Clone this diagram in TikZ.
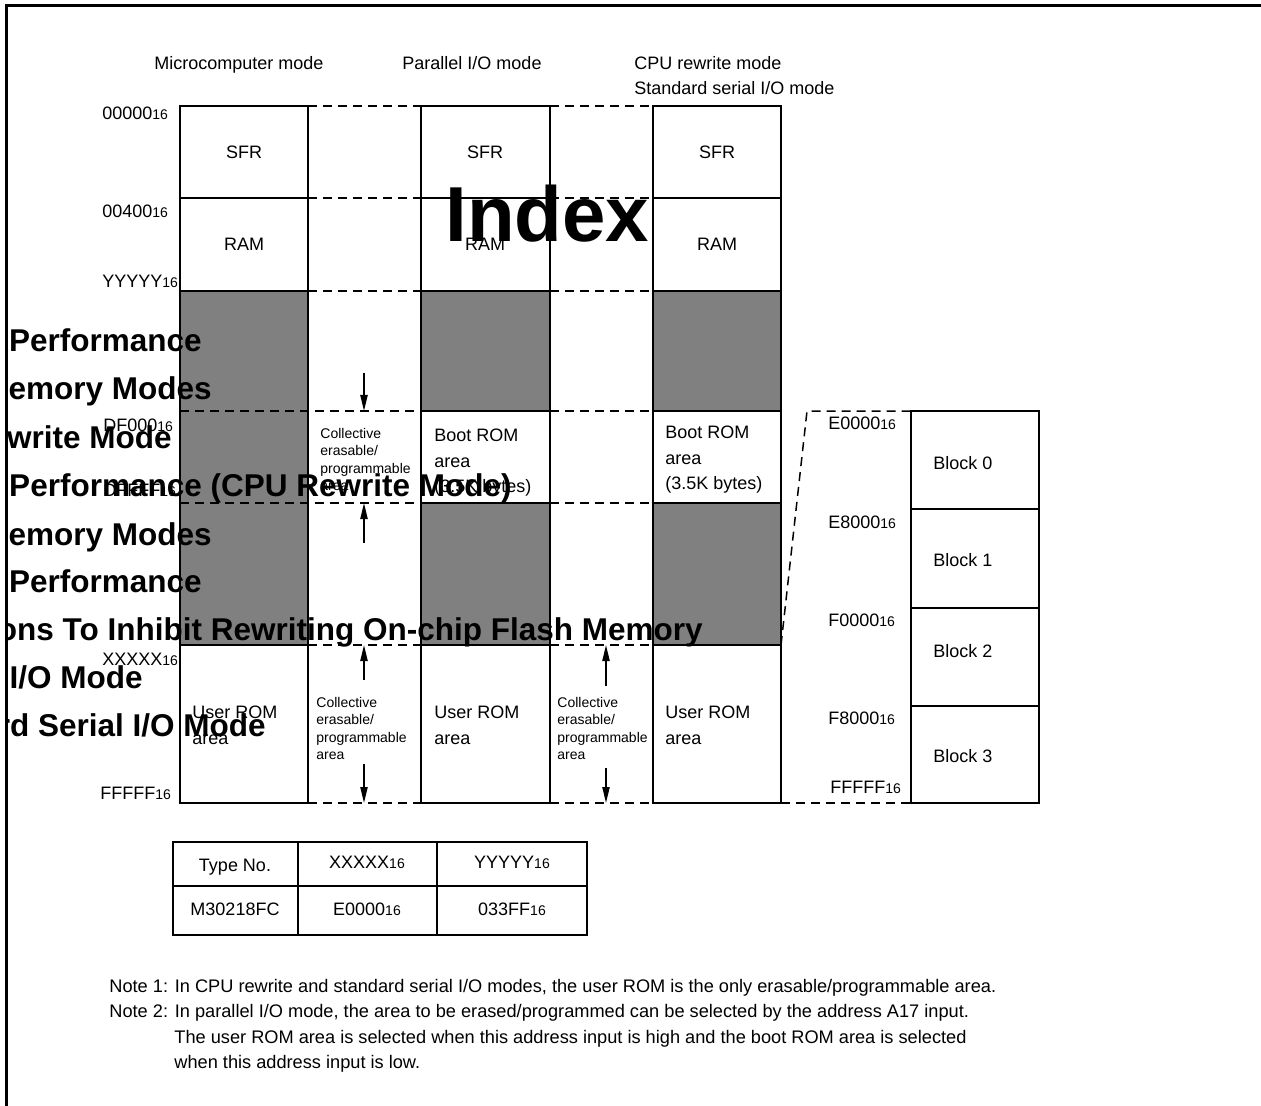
\documentclass[tikz,border=0pt]{standalone}
\usepackage{fontspec}
\setmainfont{Liberation Sans}
\usetikzlibrary{arrows.meta, positioning}
\newcommand{\hx}[1]{#1{\fontsize{7}{8}\selectfont 16}}

\begin{document}
\begin{tikzpicture}[x=0.5pt, y=-0.5pt,
  every node/.style={inner sep=0pt, text depth=0pt, font=\fontsize{9}{12.75}\selectfont},
  blank/.style={draw, line width=0.8pt, fill=white},
  shade/.style={draw, line width=0.8pt, fill=black!50},
  guide/.style={dash pattern=on 4.5pt off 3pt, line width=0.75pt},
  arr/.style={-{Triangle[length=8pt,width=3.6pt]}, line width=0.8pt},
  tiny/.style={font=\fontsize{7}{8.7}\selectfont, align=left, anchor=north west},
  romtext/.style={align=left, anchor=north west},
  notetext/.style={anchor=west, font=\fontsize{9.1}{12}\selectfont},
  over/.style={font=\fontsize{15.75}{16}\selectfont\bfseries, anchor=base east},
]
  \useasboundingbox (0,0) rectangle (1261,1106);

  % memory maps
  \draw[blank] (180,106) rectangle (308,198);
  \draw[blank] (180,198) rectangle (308,291);
  \draw[shade] (180,291) rectangle (308,645);
  \draw[blank] (180,645) rectangle (308,803);
  \foreach \xa/\xb in {421/550, 653/781} {
    \draw[blank] (\xa,106) rectangle (\xb,198);
    \draw[blank] (\xa,198) rectangle (\xb,291);
    \draw[shade] (\xa,291) rectangle (\xb,411);
    \draw[blank] (\xa,411) rectangle (\xb,503);
    \draw[shade] (\xa,503) rectangle (\xb,645);
    \draw[blank] (\xa,645) rectangle (\xb,803);
  }
  \foreach \ya/\yb in {411/509, 509/608, 608/706, 706/803}
    \draw[blank] (911,\ya) rectangle (1039,\yb);

  % dashed boundaries
  \foreach \y in {106,198,291,645,803} {
    \draw[guide] (308,\y) -- (421,\y);
    \draw[guide] (550,\y) -- (653,\y);
  }
  \foreach \y in {411,503} {
    \draw[guide] (180,\y) -- (421,\y);
    \draw[guide] (550,\y) -- (653,\y);
  }
  \draw[guide] (781,645) -- (807,411) -- (911,411);
  \draw[guide] (781,803) -- (911,803);

  % mode titles
  \node (mMicro) at (239,63) {Microcomputer mode};
  \node (mPar) at (472,63) {Parallel I/O mode};
  \node[anchor=west] (mCpu) at (634,63) {CPU rewrite mode};
  \node[anchor=west] (mSer) at (634,88) {Standard serial I/O mode};

  % areas
  \foreach \c/\xc in {a/244, b/485, c/717} {
    \node (sfr\c) at (\xc,152) {SFR};
    \node (ram\c) at (\xc,244) {RAM};
  }
  \node[romtext] (bootb) at (434,429) {Boot ROM\\area\\(3.5K bytes)};
  \node[romtext] (bootc) at (665,426) {Boot ROM\\area\\(3.5K bytes)};
  \node[romtext, font=\fontsize{9}{13}\selectfont] (usera) at (192,706) {User ROM\\area};
  \node[romtext, font=\fontsize{9}{13}\selectfont] (userb) at (434,706) {User ROM\\area};
  \node[romtext, font=\fontsize{9}{13}\selectfont] (userc) at (665,706) {User ROM\\area};

  \node[tiny] (colla) at (320,428) {Collective\\erasable/\\programmable\\area};
  \node[tiny] (collb) at (316,697) {Collective\\erasable/\\programmable\\area};
  \node[tiny] (collc) at (557,697) {Collective\\erasable/\\programmable\\area};

  % addresses
  \node[anchor=west] (adA) at (102,113) {\hx{00000}};
  \node[anchor=west] (adB) at (102,211) {\hx{00400}};
  \node[anchor=west] (adC) at (102,281) {\hx{YYYYY}};
  \node[anchor=west] (adD) at (103,425) {\hx{DF000}};
  \node[anchor=west] (adE) at (103,490) {\hx{DFFFF}};
  \node[anchor=west] (adF) at (102,659) {\hx{XXXXX}};
  \node[anchor=west] (adG) at (100,793) {\hx{FFFFF}};

  \node[anchor=west] (bkA) at (828,423) {\hx{E0000}};
  \node[anchor=west] (bkB) at (828,522) {\hx{E8000}};
  \node[anchor=west] (bkC) at (828,620) {\hx{F0000}};
  \node[anchor=west] (bkD) at (828,718) {\hx{F8000}};
  \node[anchor=west] (bkE) at (830,787) {\hx{FFFFF}};
  \node[anchor=west] (blk0) at (933,463) {Block 0};
  \node[anchor=west] (blk1) at (933,560) {Block 1};
  \node[anchor=west] (blk2) at (933,651) {Block 2};
  \node[anchor=west] (blk3) at (933,756) {Block 3};

  % range arrows
  \coordinate (aTop) at (364,373);   \coordinate (aTopE) at (364,411);
  \coordinate (aMid) at (364,543);   \coordinate (aMidE) at (364,503);
  \coordinate (bUp) at (364,680);    \coordinate (bUpE) at (364,645);
  \coordinate (bDn) at (364,764);    \coordinate (bDnE) at (364,803);
  \coordinate (cUp) at (606,686);    \coordinate (cUpE) at (606,645);
  \coordinate (cDn) at (606,768);    \coordinate (cDnE) at (606,803);
  \draw[arr] (aTop) -- (aTopE);
  \draw[arr] (aMid) -- (aMidE);
  \draw[arr] (bUp) -- (bUpE);
  \draw[arr] (bDn) -- (bDnE);
  \draw[arr] (cUp) -- (cUpE);
  \draw[arr] (cDn) -- (cDnE);

  % type table
  \draw[line width=0.8pt] (173,842) rectangle (587,935);
  \draw[line width=0.8pt] (298,842) -- (298,935) (437,842) -- (437,935) (173,886) -- (587,886);
  \node (tType) at (235,865) {Type No.};
  \node (tX) at (367,862) {\hx{XXXXX}};
  \node (tY) at (512,862) {\hx{YYYYY}};
  \node (tPart) at (235,909) {M30218FC};
  \node (tXv) at (367,909) {\hx{E0000}};
  \node (tYv) at (512,909) {\hx{033FF}};

  % notes
  \node[notetext] (note1) at (109,986) {Note 1: In CPU rewrite and standard serial I/O modes, the user ROM is the only erasable/programmable area.};
  \node[notetext] (note2) at (109,1011) {Note 2: In parallel I/O mode, the area to be erased/programmed can be selected by the address A17 input.};
  \node[notetext] (note2b) at (174,1037) {The user ROM area is selected when this address input is high and the boot ROM area is selected};
  \node[notetext] (note2c) at (174,1062) {when this address input is low.};

  % overlaid headings
  \node[font=\fontsize{39}{39}\selectfont\bfseries, anchor=base west] (idx) at (445,242) {Index};
  \begin{scope}
    \clip (7,0) rectangle (1261,1106);
    \node[over] (hd1) at (202,352) {Performance};
    \node[over] (hd2) at (212,400) {Memory Modes};
    \node[over] (hd3) at (172,448) {Rewrite Mode};
    \node[over] (hd4) at (512,496) {Performance (CPU Rewrite Mode)};
    \node[over] (hd5) at (212,545) {Memory Modes};
    \node[over] (hd6) at (202,592) {Performance};
    \node[over] (hd7) at (703,640) {Functions To Inhibit Rewriting On-chip Flash Memory};
    \node[over] (hd8) at (143,688) {I/O Mode};
    \node[over] (hd9) at (266,736) {Standard Serial I/O Mode};
  \end{scope}

  % frame
  \draw[line width=1.5pt] (6,1106) -- (6,6) -- (1261,6);
\end{tikzpicture}
\end{document}
